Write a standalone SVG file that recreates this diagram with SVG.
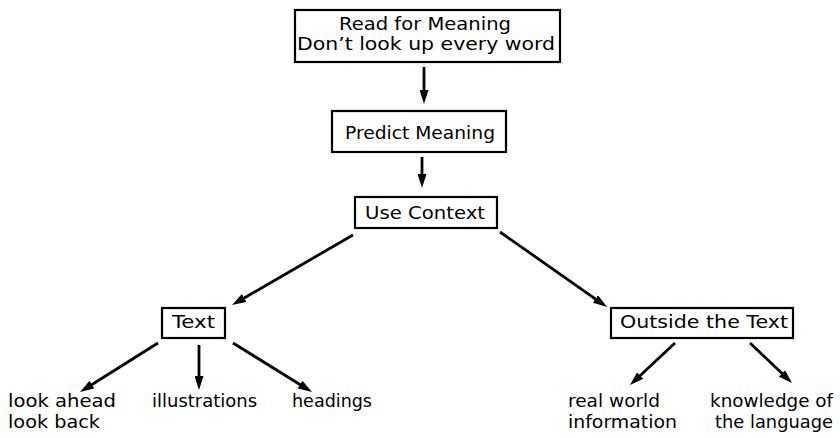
<svg xmlns="http://www.w3.org/2000/svg" width="840" height="438" viewBox="0 0 840 438">
<style>
  .box{fill:#fff;stroke:#000;stroke-width:2.2}
  .t{font-family:"DejaVu Sans","Liberation Sans",sans-serif;font-size:18.5px;fill:#000}
  .c{stroke:#000;stroke-width:2.8;fill:none;marker-end:url(#ah)}
</style>
<defs>
  <marker id="ah" markerUnits="userSpaceOnUse" markerWidth="14" markerHeight="9" refX="4" refY="4.5" orient="auto">
    <path d="M0,0 L14,4.5 L0,9 z" fill="#000"/>
  </marker>
</defs>
<rect width="840" height="438" fill="#fff"/>
<g id="connectors">
  <line class="c" x1="424" y1="67" x2="424" y2="94"/>
  <line class="c" x1="422" y1="157" x2="422" y2="178"/>
  <line class="c" x1="353" y1="235" x2="240.7" y2="300"/>
  <line class="c" x1="500" y1="232" x2="598.8" y2="301.3"/>
  <line class="c" x1="158" y1="343" x2="88.5" y2="386.7"/>
  <line class="c" x1="199" y1="345" x2="199" y2="380"/>
  <line class="c" x1="233" y1="343" x2="303.5" y2="386.7"/>
  <line class="c" x1="675" y1="343" x2="637.3" y2="378.2"/>
  <line class="c" x1="750" y1="343" x2="784.8" y2="376.1"/>
</g>
<g id="read">
  <rect class="box" x="295" y="10" width="265" height="52"/>
  <text class="t" x="339" y="30" textLength="172" lengthAdjust="spacingAndGlyphs">Read for Meaning</text>
  <text class="t" x="297" y="50" textLength="258" lengthAdjust="spacingAndGlyphs">Don’t look up every word</text>
</g>
<g id="predict">
  <rect class="box" x="332" y="111" width="174" height="41"/>
  <text class="t" x="345" y="139" textLength="150" lengthAdjust="spacingAndGlyphs">Predict Meaning</text>
</g>
<g id="context">
  <rect class="box" x="355" y="197" width="142" height="31"/>
  <text class="t" x="365" y="219" textLength="120" lengthAdjust="spacingAndGlyphs">Use Context</text>
</g>
<g id="text">
  <rect class="box" x="162" y="308" width="63" height="30"/>
  <text class="t" x="172" y="328" textLength="43" lengthAdjust="spacingAndGlyphs">Text</text>
</g>
<g id="outside">
  <rect class="box" x="611" y="308" width="182" height="30"/>
  <text class="t" x="620" y="328" textLength="168" lengthAdjust="spacingAndGlyphs">Outside the Text</text>
</g>
<g id="lookahead">
  <text class="t" x="8" y="407" textLength="108" lengthAdjust="spacingAndGlyphs">look ahead</text>
  <text class="t" x="8" y="428" textLength="92" lengthAdjust="spacingAndGlyphs">look back</text>
</g>
<g id="illustrations">
  <text class="t" x="152" y="407" textLength="105" lengthAdjust="spacingAndGlyphs">illustrations</text>
</g>
<g id="headings">
  <text class="t" x="292" y="407" textLength="80" lengthAdjust="spacingAndGlyphs">headings</text>
</g>
<g id="realworld">
  <text class="t" x="568" y="407" textLength="92" lengthAdjust="spacingAndGlyphs">real world</text>
  <text class="t" x="568" y="428" textLength="109" lengthAdjust="spacingAndGlyphs">information</text>
</g>
<g id="knowledge">
  <text class="t" x="710" y="407" textLength="123" lengthAdjust="spacingAndGlyphs">knowledge of</text>
  <text class="t" x="715" y="428" textLength="118" lengthAdjust="spacingAndGlyphs">the language</text>
</g>
</svg>
